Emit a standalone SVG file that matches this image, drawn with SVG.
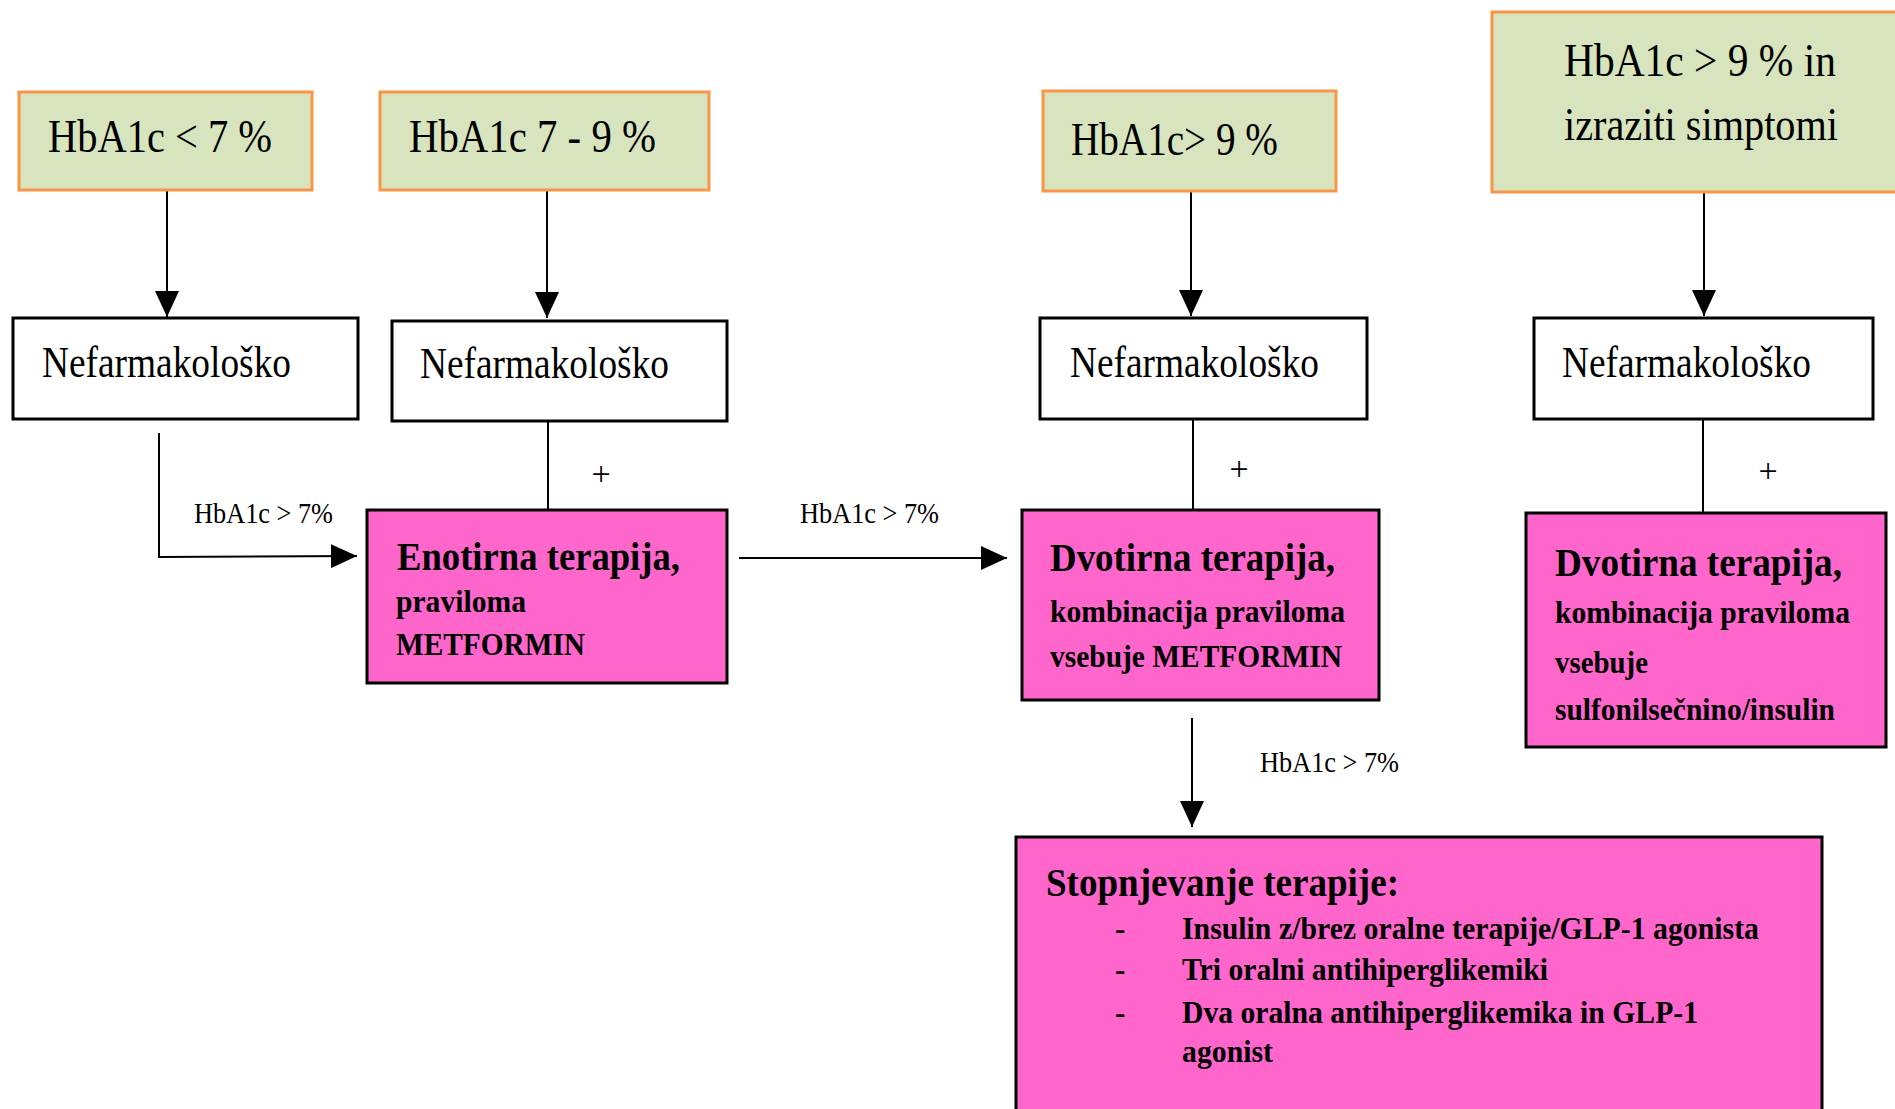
<svg xmlns="http://www.w3.org/2000/svg" width="1895" height="1109" viewBox="0 0 1895 1109">
<style>
  .g { fill: #D7E4BD; stroke: #F79646; stroke-width: 3; }
  .w { fill: #FFFFFF; stroke: #000000; stroke-width: 3; }
  .p { fill: #FF66CC; stroke: #000000; stroke-width: 3; }
  .c { fill: none; stroke: #000000; stroke-width: 2; }
  text { font-family: "Liberation Serif", "Times New Roman", serif; fill: #000000; }
  .big { font-size: 47px; }
  .nef { font-size: 45px; }
  .lbl { font-size: 29px; }
  .plus { font-size: 34px; }
  .t { font-size: 41px; font-weight: bold; }
  .s { font-size: 31px; font-weight: bold; }
</style>
<defs>
  <marker id="ah" markerUnits="userSpaceOnUse" markerWidth="26" markerHeight="24" refX="26" refY="12" orient="auto">
    <path d="M0,0 L26,12 L0,24 Z" fill="#000000"/>
  </marker>
</defs>
<rect x="0" y="0" width="1895" height="1109" fill="#FFFFFF"/>

<g id="connectors">
  <line class="c" x1="167" y1="191" x2="167" y2="317" marker-end="url(#ah)"/>
  <line class="c" x1="547" y1="191" x2="547" y2="318" marker-end="url(#ah)"/>
  <line class="c" x1="1191" y1="192" x2="1191" y2="316" marker-end="url(#ah)"/>
  <line class="c" x1="1704" y1="192" x2="1704" y2="316" marker-end="url(#ah)"/>
  <polyline class="c" points="159,433 159,557 357,556" marker-end="url(#ah)"/>
  <line class="c" x1="739" y1="558" x2="1007" y2="558" marker-end="url(#ah)"/>
  <line class="c" x1="1192" y1="718" x2="1192" y2="827" marker-end="url(#ah)"/>
  <line class="c" x1="548" y1="421" x2="548" y2="510"/>
  <line class="c" x1="1193" y1="419" x2="1193" y2="510"/>
  <line class="c" x1="1703" y1="418" x2="1703" y2="513"/>
  <text class="lbl" x="194" y="523" textLength="139" lengthAdjust="spacingAndGlyphs">HbA1c &gt; 7%</text>
  <text class="lbl" x="800" y="523" textLength="139" lengthAdjust="spacingAndGlyphs">HbA1c &gt; 7%</text>
  <text class="lbl" x="1260" y="772" textLength="139" lengthAdjust="spacingAndGlyphs">HbA1c &gt; 7%</text>
  <text class="plus" x="601" y="485" text-anchor="middle">+</text>
  <text class="plus" x="1239" y="480" text-anchor="middle">+</text>
  <text class="plus" x="1768" y="482" text-anchor="middle">+</text>
</g>

<g id="hba1c-lt7">
  <rect class="g" x="19" y="92" width="293" height="98"/>
  <text class="big" x="48" y="152" textLength="224" lengthAdjust="spacingAndGlyphs">HbA1c &lt; 7 %</text>
</g>
<g id="hba1c-7-9">
  <rect class="g" x="380" y="92" width="329" height="98"/>
  <text class="big" x="409" y="152" textLength="247" lengthAdjust="spacingAndGlyphs">HbA1c 7 - 9 %</text>
</g>
<g id="hba1c-gt9">
  <rect class="g" x="1043" y="91" width="293" height="100"/>
  <text class="big" x="1071" y="155" textLength="207" lengthAdjust="spacingAndGlyphs">HbA1c&gt; 9 %</text>
</g>
<g id="hba1c-gt9-simptomi">
  <rect class="g" x="1492" y="12" width="420" height="180"/>
  <text class="big" x="1564" y="76" textLength="272" lengthAdjust="spacingAndGlyphs">HbA1c &gt; 9 % in</text>
  <text class="big" x="1564" y="140" textLength="274" lengthAdjust="spacingAndGlyphs">izraziti simptomi</text>
</g>

<g id="nef1">
  <rect class="w" x="13" y="318" width="345" height="101"/>
  <text class="nef" x="42" y="377" textLength="249" lengthAdjust="spacingAndGlyphs">Nefarmakološko</text>
</g>
<g id="nef2">
  <rect class="w" x="392" y="321" width="335" height="100"/>
  <text class="nef" x="420" y="378" textLength="249" lengthAdjust="spacingAndGlyphs">Nefarmakološko</text>
</g>
<g id="nef3">
  <rect class="w" x="1040" y="318" width="327" height="101"/>
  <text class="nef" x="1070" y="377" textLength="249" lengthAdjust="spacingAndGlyphs">Nefarmakološko</text>
</g>
<g id="nef4">
  <rect class="w" x="1534" y="318" width="339" height="101"/>
  <text class="nef" x="1562" y="377" textLength="249" lengthAdjust="spacingAndGlyphs">Nefarmakološko</text>
</g>

<g id="enotirna">
  <rect class="p" x="367" y="510" width="360" height="173"/>
  <text class="t" x="397" y="570" textLength="283" lengthAdjust="spacingAndGlyphs">Enotirna terapija,</text>
  <text class="s" x="396" y="612" textLength="130" lengthAdjust="spacingAndGlyphs">praviloma</text>
  <text class="s" x="396" y="655" textLength="189" lengthAdjust="spacingAndGlyphs">METFORMIN</text>
</g>
<g id="dvotirna-metformin">
  <rect class="p" x="1022" y="510" width="357" height="190"/>
  <text class="t" x="1050" y="571" textLength="285" lengthAdjust="spacingAndGlyphs">Dvotirna terapija,</text>
  <text class="s" x="1050" y="622" textLength="295" lengthAdjust="spacingAndGlyphs">kombinacija praviloma</text>
  <text class="s" x="1050" y="667" textLength="292" lengthAdjust="spacingAndGlyphs">vsebuje METFORMIN</text>
</g>
<g id="dvotirna-sulfonil">
  <rect class="p" x="1526" y="513" width="360" height="234"/>
  <text class="t" x="1555" y="576" textLength="287" lengthAdjust="spacingAndGlyphs">Dvotirna terapija,</text>
  <text class="s" x="1555" y="623" textLength="295" lengthAdjust="spacingAndGlyphs">kombinacija praviloma</text>
  <text class="s" x="1555" y="673" textLength="93" lengthAdjust="spacingAndGlyphs">vsebuje</text>
  <text class="s" x="1555" y="720" textLength="280" lengthAdjust="spacingAndGlyphs">sulfonilsečnino/insulin</text>
</g>
<g id="stopnjevanje">
  <rect class="p" x="1016" y="837" width="806" height="300"/>
  <text class="t" x="1046" y="896" textLength="353" lengthAdjust="spacingAndGlyphs">Stopnjevanje terapije:</text>
  <text class="s" x="1115" y="939">-</text>
  <text class="s" x="1115" y="980">-</text>
  <text class="s" x="1115" y="1023">-</text>
  <text class="s" x="1182" y="939" textLength="577" lengthAdjust="spacingAndGlyphs">Insulin z/brez oralne terapije/GLP-1  agonista</text>
  <text class="s" x="1182" y="980" textLength="366" lengthAdjust="spacingAndGlyphs">Tri oralni antihiperglikemiki</text>
  <text class="s" x="1182" y="1023" textLength="516" lengthAdjust="spacingAndGlyphs">Dva oralna antihiperglikemika in GLP-1</text>
  <text class="s" x="1182" y="1062" textLength="91" lengthAdjust="spacingAndGlyphs">agonist</text>
</g>
</svg>
